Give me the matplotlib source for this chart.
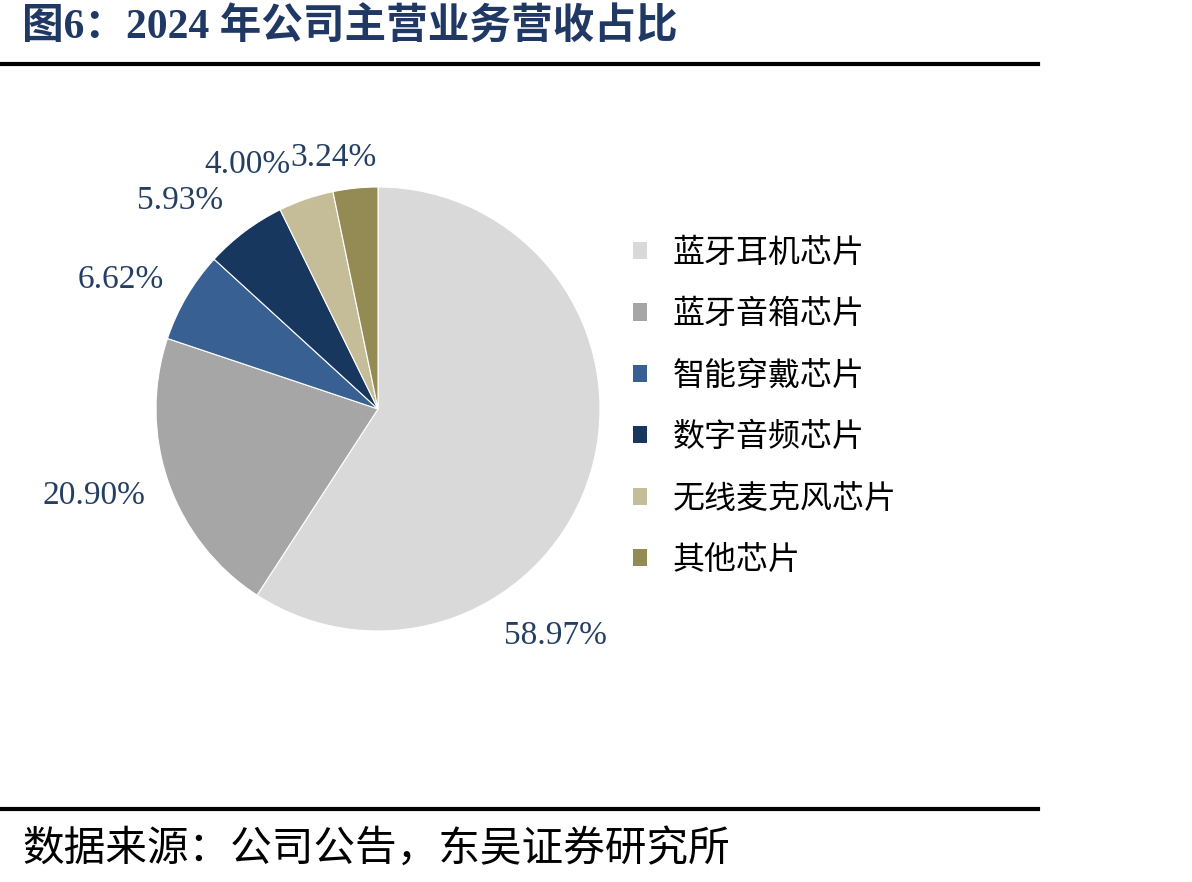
import matplotlib.pyplot as plt
from matplotlib.patches import Patch
from matplotlib.lines import Line2D

# 数据
categories = ['蓝牙耳机芯片', '蓝牙音箱芯片', '智能穿戴芯片', '数字音频芯片', '无线麦克风芯片', '其他芯片']
shares = [58.97, 20.90, 6.62, 5.93, 4.00, 3.24]
colors = ['#D9D9D9', '#A6A6A6', '#386092', '#17375E', '#C4BD97', '#948A54']

title = '图6：2024 年公司主营业务营收占比'
source = '数据来源：公司公告，东吴证券研究所'

# 标签位置 (以半径为单位, Excel 最佳位置)
label_pos = [(0.80, -1.02), (-1.28, -0.39), (-1.16, 0.58), (-0.89, 0.94), (-0.59, 1.10), (-0.20, 1.13)]

serif_cjk = ['Liberation Serif', 'Noto Sans CJK SC']
cjk = ['Noto Sans CJK SC', 'DejaVu Sans']
plt.rcParams['font.family'] = cjk

W, H = 1192, 882
fig = plt.figure(figsize=(W / 100, H / 100), dpi=100)

# 饼图: 圆心 (378, 409) 像素, 半径 222 像素
cx, cy, r = 378, 409, 222
side = 2.5 * r
ax = fig.add_axes([(cx - side / 2) / W, (H - cy - side / 2) / H, side / W, side / H])
wedges, _ = ax.pie(shares, colors=colors, startangle=90, counterclock=False, radius=1,
                   wedgeprops=dict(edgecolor='white', linewidth=0.8))
ax.set_xlim(-1.25, 1.25)
ax.set_ylim(-1.25, 1.25)
ax.set_aspect('equal')

for v, (x, y) in zip(shares, label_pos):
    ax.text(x, y, f'{v:.2f}%', ha='center', va='center', fontsize=24,
            family='Liberation Serif', color='#253F63')

# 图例
handles = [Patch(facecolor=c, edgecolor='none') for c in colors]
fig.legend(handles, categories, loc='upper left', bbox_to_anchor=(633 / W, 1 - 237 / H),
           frameon=False, fontsize=23, handlelength=0.45, handleheight=0.45,
           handletextpad=0.8, labelspacing=0.92, borderpad=0, borderaxespad=0)

# 标题与分隔线
fig.text(22 / W, 1 - 27 / H, title, fontsize=30, fontweight='bold', color='#1F3864',
         family=serif_cjk, va='center', ha='left')
fig.add_artist(Line2D([0, 1038 / W], [1 - 64 / H] * 2, color='black', linewidth=3))
fig.add_artist(Line2D([0, 1038 / W], [1 - 809 / H] * 2, color='black', linewidth=3))
fig.text(22 / W, 1 - 849 / H, source, fontsize=30, color='black', va='center', ha='left')

fig.savefig('out.png', dpi=100)
